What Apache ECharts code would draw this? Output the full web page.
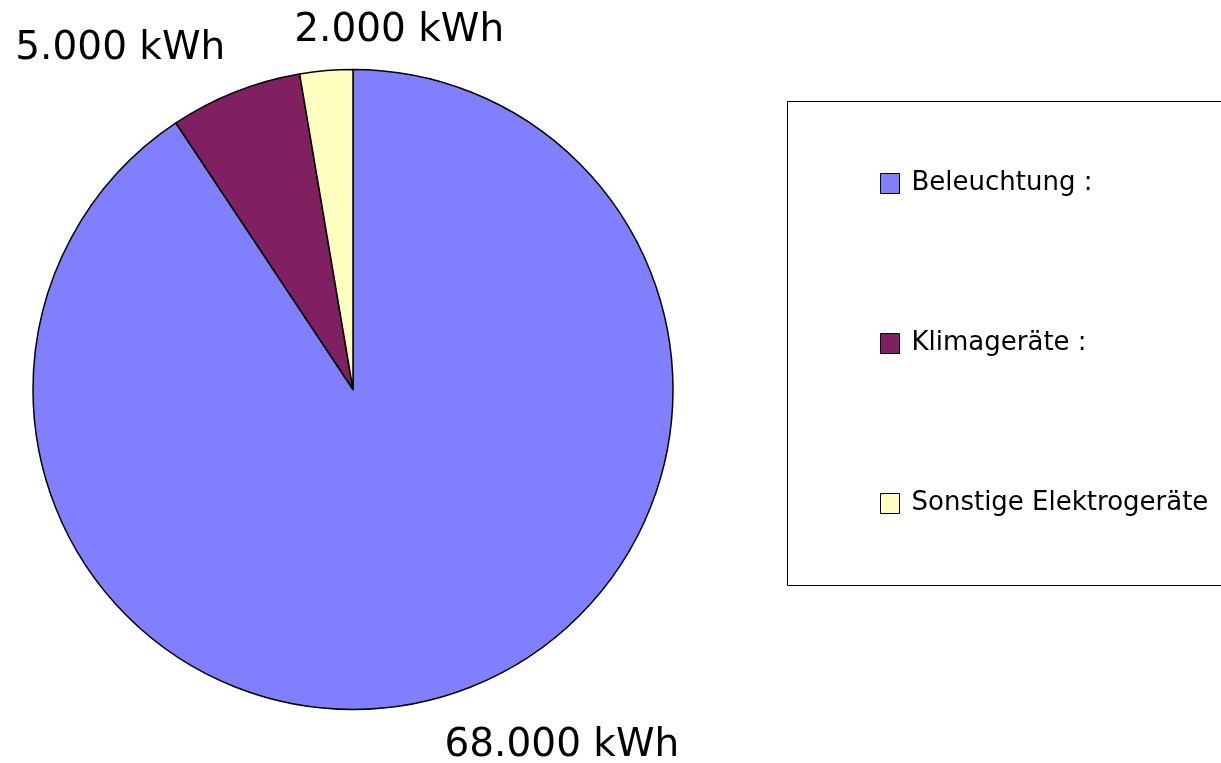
<!DOCTYPE html>
<html>
<head>
<meta charset="utf-8">
<script src="https://cdn.jsdelivr.net/npm/echarts@6/dist/echarts.min.js"></script>
<style>
  html, body { margin: 0; padding: 0; background: #ffffff; }
  #chart { width: 1221px; height: 763px; }
</style>
</head>
<body>
<div id="chart"></div>
<script>
// Stromverbrauch nach Verbrauchergruppe (kWh)
var categories = ['Beleuchtung :', 'Klimageräte :', 'Sonstige Elektrogeräte'];
var values = [68000, 5000, 2000];
var colors = ['#8080ff', '#802060', '#ffffc0'];

function formatKWh(v) {
  return String(v).replace(/\B(?=(\d{3})+(?!\d))/g, '.') + ' kWh';
}

var CX = 353, CY = 389.5, R = 320;
var total = values.reduce(function (a, b) { return a + b; }, 0);

// label anchoring relative to the outer edge point of each slice
var labelPlacement = [
  { align: 'left',  dx: -1,  dy: 50 },
  { align: 'right', dx: -10, dy: -43 },
  { align: 'left',  dx: -32, dy: -40 }
];

function edgePoint(idx) {
  var before = 0;
  for (var i = 0; i < idx; i++) before += values[i];
  var mid = (before + values[idx] / 2) / total * Math.PI * 2; // clockwise from 12 o'clock
  return { x: CX + R * Math.sin(mid), y: CY - R * Math.cos(mid) };
}

var chart = echarts.init(document.getElementById('chart'));
chart.setOption({
  backgroundColor: '#ffffff',
  animation: false,
  graphic: [{
    type: 'rect',
    shape: { x: 787.5, y: 101.5, width: 480, height: 484 },
    style: { fill: '#ffffff', stroke: '#000000', lineWidth: 1 },
    z: 0
  }],
  legend: {
    orient: 'vertical',
    left: 875,
    top: 165.5,
    itemWidth: 19,
    itemHeight: 20,
    itemGap: 134,
    icon: 'rect',
    itemStyle: { borderColor: '#000000', borderWidth: 1 },
    textStyle: {
      fontFamily: 'DejaVu Sans',
      fontSize: 26,
      color: '#000000',
      padding: [0, 0, 0, 7]
    },
    data: categories,
    z: 5
  },
  series: [{
    type: 'pie',
    center: [CX, CY],
    radius: [0, R],
    startAngle: 90,
    clockwise: true,
    avoidLabelOverlap: false,
    silent: true,
    itemStyle: { borderColor: '#000000', borderWidth: 1.5 },
    label: {
      show: true,
      position: 'outside',
      fontFamily: 'DejaVu Sans',
      fontSize: 39,
      color: '#000000',
      formatter: function (p) { return formatKWh(p.value); }
    },
    labelLine: { show: false },
    labelLayout: function (p) {
      var e = edgePoint(p.dataIndex);
      var pl = labelPlacement[p.dataIndex];
      return { x: e.x + pl.dx, y: e.y + pl.dy, align: pl.align, verticalAlign: 'middle' };
    },
    data: categories.map(function (c, i) {
      return { name: c, value: values[i], itemStyle: { color: colors[i] } };
    })
  }]
});
</script>
</body>
</html>
